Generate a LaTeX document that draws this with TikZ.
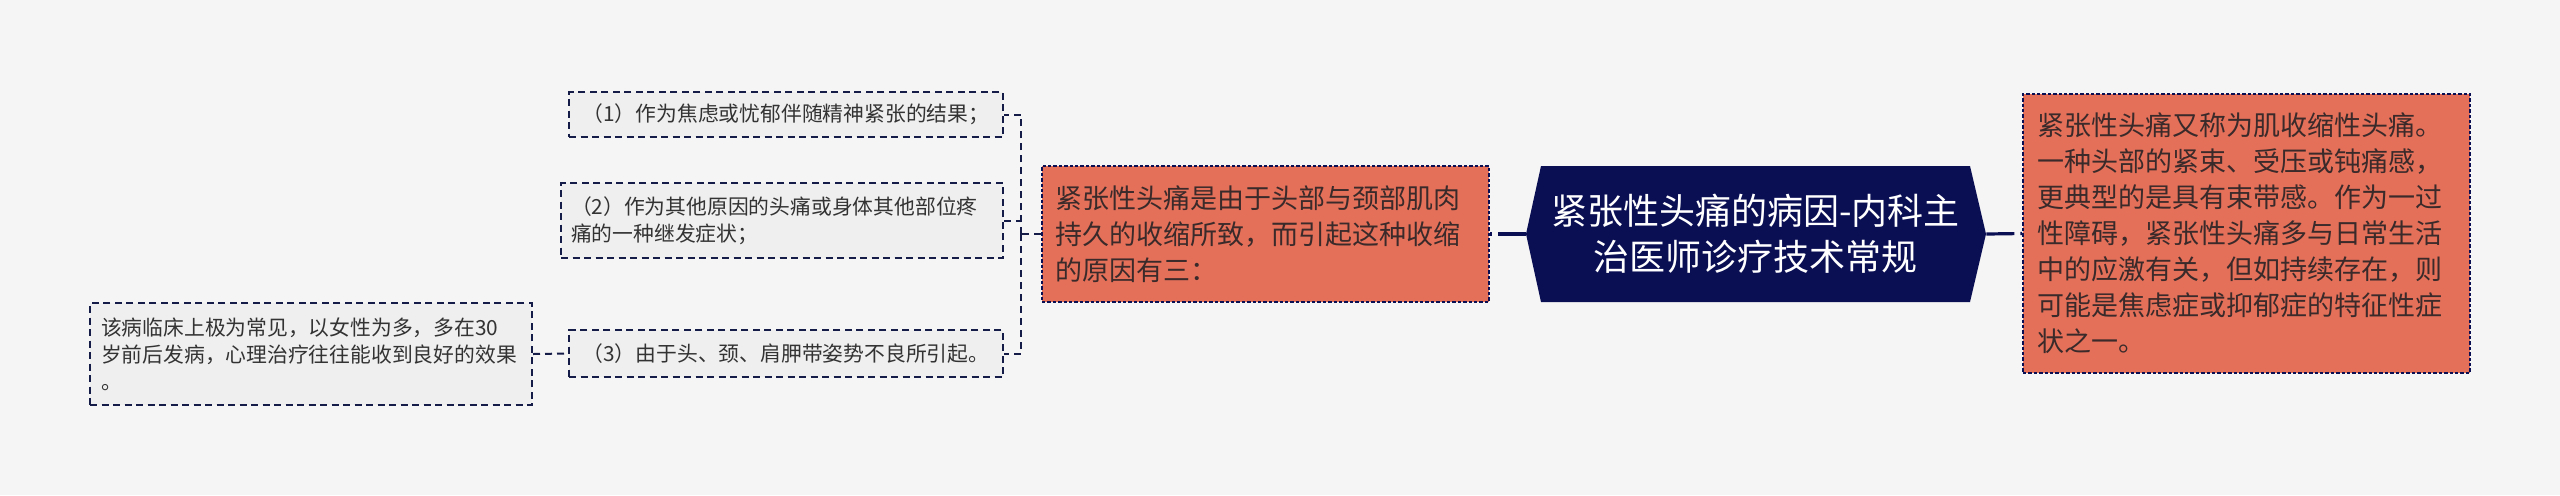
\documentclass[tikz,border=0pt]{standalone}
\usepackage{fontspec}
\setmainfont{Noto Sans CJK SC}
\definecolor{bgcol}{HTML}{F5F5F5}
\definecolor{navy}{HTML}{0A0E53}
\definecolor{linkcol}{HTML}{161C48}
\definecolor{leafcol}{HTML}{EFEFEF}
\definecolor{leafink}{HTML}{333333}
\definecolor{topiccol}{HTML}{E4705A}
\definecolor{topicink}{HTML}{3A2A2A}

\begin{document}
\begin{tikzpicture}[x=0.5pt,y=-0.5pt,
  leaf/.style={draw=linkcol,line width=1pt,dash pattern=on 3.5pt off 2.25pt,fill=leafcol,
    text=leafink,font=\fontsize{10.4pt}{13.6pt}\selectfont,inner xsep=5pt,inner ysep=0pt},
  topic/.style={draw=navy,line width=0.8pt,dash pattern=on 1.7pt off 1pt,fill=topiccol,
    text=topicink,font=\fontsize{13.5pt}{18pt}\selectfont,inner xsep=6.5pt,inner ysep=0pt,
    text width=210.5pt,align=left},
  root/.style={text=white,font=\fontsize{18pt}{23pt}\selectfont,align=center,inner sep=0pt,
    minimum width=214.5pt,minimum height=68pt},
  link/.style={draw=linkcol,line width=1pt,dash pattern=on 3.5pt off 2.5pt},
  trunk/.style={draw=navy,line width=1.6pt,dash pattern=on 14pt off 3pt}]
\def\hexagon{(1541,166) -- (1970,166) -- (1986,234) -- (1970,302) -- (1541,302) -- (1526,234) -- cycle}
\fill[bgcol] (0,0) rectangle (2560,495);
\fill[navy] \hexagon;
\node[root] (root) at (1755.5,234) {紧张性头痛的病因-内科主\\治医师诊疗技术常规};
\node[topic,minimum height=68pt] (cause) at (1265.5,234)
  {紧张性头痛是由于头部与颈部肌肉\\持久的收缩所致，而引起这种收缩\\的原因有三：};
\node[topic,minimum height=139.5pt,inner xsep=7pt,text width=209.5pt] (desc) at (2246.5,233.5)
  {紧张性头痛又称为肌收缩性头痛。\\一种头部的紧束、受压或钝痛感，\\更典型的是具有束带感。作为一过\\性障碍，紧张性头痛多与日常生活\\中的应激有关，但如持续存在，则\\可能是焦虑症或抑郁症的特征性症\\状之一。};
\node[leaf,minimum width=217pt,minimum height=22.5pt] (itemA) at (786,114.5)
  {（1）作为焦虑或忧郁伴随精神紧张的结果；};
\node[leaf,text width=211pt,align=left,minimum height=37.5pt] (itemB) at (782,220.5)
  {（2）作为其他原因的头痛或身体其他部位疼\\痛的一种继发症状；};
\node[leaf,minimum width=217pt,minimum height=23.5pt] (itemC) at (786,353.5)
  {（3）由于头、颈、肩胛带姿势不良所引起。};
\node[leaf,text width=210pt,inner xsep=5.5pt,align=left,minimum height=51pt] (note) at (311,354)
  {该病临床上极为常见，以女性为多，多在30\\岁前后发病，心理治疗往往能收到良好的效果\\。};
\coordinate (fork) at ([xshift=-10pt]cause.west);
\draw[trunk] ([xshift=-7.5pt]root.west) -- (cause.east);
\draw[trunk] ([xshift=8pt]root.east) -- (desc.west);
\draw[link] (cause.west) -- (fork);
\draw[link] (fork) |- (itemA.east);
\draw[link] (fork) |- (itemB.east);
\draw[link] (fork) |- (itemC.east);
\draw[link] (note.east) -- (itemC.west);
\end{tikzpicture}
\end{document}
